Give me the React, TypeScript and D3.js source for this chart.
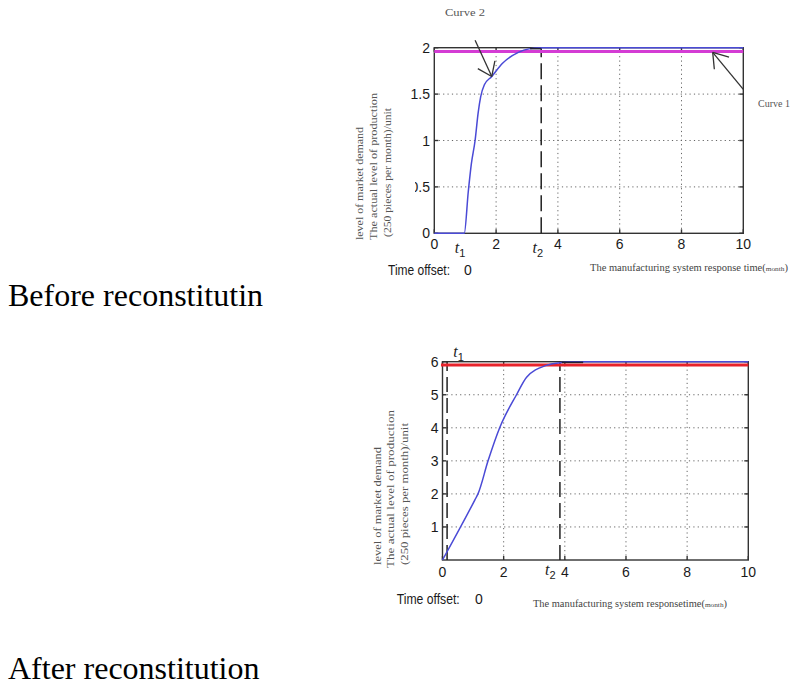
import React from 'react';
import * as d3 from 'd3';

// ---------- data ----------
const xTicks = [0, 2, 4, 6, 8, 10];
const xTickLabels = ['0', '2', '4', '6', '8', '10'];
const gridX = [2, 4, 6, 8];

const beforeYTicks = [0, 0.5, 1, 1.5, 2];
const beforeYTickLabels = ['0', '0.5', '1', '1.5', '2'];
const beforeGridY = [0.5, 1, 1.5];

const afterYTicks = [1, 2, 3, 4, 5, 6];
const afterYTickLabels = ['1', '2', '3', '4', '5', '6'];
const afterGridY = [1, 2, 3, 4, 5];

// Before reconstitution: actual production (curve 2) and market demand (curve 1)
const beforeTime = [0, 0.97, 1.1, 1.2, 1.32, 1.42, 1.5, 1.62, 1.86, 2.2, 2.72, 3.1, 3.4, 10];
const beforeProduction = [0, 0, 0.45, 0.75, 1.0, 1.3, 1.47, 1.6, 1.69, 1.83, 1.95, 1.99, 2, 2];
const beforeDemandTime = [0, 10];
const beforeDemand = [1.96, 1.96];
const beforeT2 = 3.46;

// After reconstitution
const afterTime = [0, 1.06, 1.16, 1.49, 1.87, 2.42, 2.75, 3.4, 3.84, 4.2, 10];
const afterProduction = [0, 1.82, 2.0, 3.0, 4.0, 5.0, 5.53, 5.89, 5.97, 6.0, 6.0];
const afterDemandTime = [-0.05, 10];
const afterDemand = [5.9, 5.9];
const afterT1 = 0.15;
const afterT2 = 3.84;

const SANS = '"Liberation Sans", Arial, sans-serif';
const SERIF = '"Liberation Serif", "Times New Roman", serif';
const FRAME = '#333';

type Scale = d3.ScaleLinear<number, number>;

function Frame({ x, y, gridY }: { x: Scale; y: Scale; gridY: number[] }) {
  const [x0, x1] = x.range();
  const [y0, y1] = y.range();
  return (
    <g>
      {gridX.map((v) => (
        <line key={'gx' + v} x1={x(v)} x2={x(v)} y1={y0} y2={y1} stroke="#666" strokeWidth={1} strokeDasharray="1.2,3.2" />
      ))}
      {gridY.map((v) => (
        <line key={'gy' + v} x1={x0} x2={x1} y1={y(v)} y2={y(v)} stroke="#666" strokeWidth={1} strokeDasharray="1.2,3.2" />
      ))}
      <rect x={x0} y={y1} width={x1 - x0} height={y0 - y1} fill="none" stroke={FRAME} strokeWidth={1.4} />
      {xTicks.map((v) => (
        <g key={'tx' + v}>
          <line x1={x(v)} x2={x(v)} y1={y0} y2={y0 - 4} stroke={FRAME} strokeWidth={1.4} />
          <line x1={x(v)} x2={x(v)} y1={y1} y2={y1 + 4} stroke={FRAME} strokeWidth={1.4} />
        </g>
      ))}
    </g>
  );
}

function YTicks({ x, y, ticks }: { x: Scale; y: Scale; ticks: number[] }) {
  const [x0, x1] = x.range();
  return (
    <g>
      {ticks.map((v) => (
        <g key={'ty' + v}>
          <line x1={x0} x2={x0 + 4} y1={y(v)} y2={y(v)} stroke={FRAME} strokeWidth={1.4} />
          <line x1={x1} x2={x1 - 4} y1={y(v)} y2={y(v)} stroke={FRAME} strokeWidth={1.4} />
        </g>
      ))}
    </g>
  );
}

function Arrow({ x, y, tail, tip, len, ang }: { x: Scale; y: Scale; tail: number[]; tip: number[]; len: number; ang: number }) {
  const tx = x(tip[0]), ty = y(tip[1]);
  const sx = x(tail[0]), sy = y(tail[1]);
  const a = Math.atan2(sy - ty, sx - tx);
  const r = (ang * Math.PI) / 180;
  const b1 = [tx + len * Math.cos(a + r), ty + len * Math.sin(a + r)];
  const b2 = [tx + len * Math.cos(a - r), ty + len * Math.sin(a - r)];
  return (
    <g stroke="#333" strokeWidth={1.3} fill="none">
      <line x1={sx} y1={sy} x2={tx} y2={ty} />
      <line x1={b1[0]} y1={b1[1]} x2={tx} y2={ty} />
      <line x1={b2[0]} y1={b2[1]} x2={tx} y2={ty} />
    </g>
  );
}

function TLabel({ px, py, sub }: { px: number; py: number; sub: string }) {
  return (
    <text x={px} y={py} fontFamily={SERIF} fontStyle="italic" fontSize={16} fill="#222">
      t
      <tspan fontFamily={SANS} fontStyle="normal" fontSize={11} dy={4}>
        {sub}
      </tspan>
    </text>
  );
}

export default function App() {
  // ---- before chart ----
  const bx = d3.scaleLinear().domain([0, 10]).range([434.3, 743.3]);
  const by = d3.scaleLinear().domain([0, 2]).range([233.3, 47.7]);
  const line = (xs: Scale, ys: Scale) =>
    d3
      .line<[number, number]>()
      .x((d) => xs(d[0]))
      .y((d) => ys(d[1]))
      .curve(d3.curveMonotoneX);
  const bProd = line(bx, by)(beforeTime.map((t, i) => [t, beforeProduction[i]] as [number, number])) || '';
  const bDem = line(bx, by)(beforeDemandTime.map((t, i) => [t, beforeDemand[i]] as [number, number])) || '';

  // ---- after chart ----
  const ax = d3.scaleLinear().domain([0, 10]).range([442.5, 748.3]);
  const ay = d3.scaleLinear().domain([0, 6]).range([560, 361.7]);
  const aProd = line(ax, ay)(afterTime.map((t, i) => [t, afterProduction[i]] as [number, number])) || '';
  const aDem = line(ax, ay)(afterDemandTime.map((t, i) => [t, afterDemand[i]] as [number, number])) || '';

  const TICK_FS = 14;

  return (
    <svg
      width={796}
      height={685}
      viewBox="0 0 796 685"
      style={{ position: 'absolute', left: 0, top: 0, background: '#fff', display: 'block' }}
    >
      <defs>
        <clipPath id="clipHalf">
          <rect x={415} y={0} width={400} height={685} />
        </clipPath>
      </defs>
      <rect x={0} y={0} width={796} height={685} fill="#fff" />

      {/* ================= BEFORE ================= */}
      <Frame x={bx} y={by} gridY={beforeGridY} />
      <YTicks x={bx} y={by} ticks={beforeYTicks} />
      <line x1={bx(beforeT2)} x2={bx(beforeT2)} y1={by(0)} y2={by(2)} stroke="#222" strokeWidth={1.5} strokeDasharray="16,6" />
      <path d={bDem} fill="none" stroke="#d43cd4" strokeWidth={3} />
      <path d={bProd} fill="none" stroke="#4a4ad6" strokeWidth={1.5} />
      <line x1={bx(3.1)} x2={bx(3.45)} y1={by(1.99)} y2={by(1.99)} stroke="#223" strokeWidth={1.6} />
      <Arrow x={bx} y={by} tail={[1.32, 2.08]} tip={[1.86, 1.69]} len={16} ang={36} />
      <Arrow x={bx} y={by} tail={[10, 1.55]} tip={[9.01, 1.95]} len={17} ang={34} />

      {beforeYTicks.map((v, i) => (
        <text
          key={'bl' + v}
          x={430}
          y={by(v)}
          dy="0.36em"
          textAnchor="end"
          fontFamily={SANS}
          fontSize={TICK_FS}
          fill="#1a1a1a"
          clipPath={beforeYTickLabels[i] === '0.5' ? 'url(#clipHalf)' : undefined}
        >
          {beforeYTickLabels[i]}
        </text>
      ))}
      {xTicks.map((v, i) => (
        <text key={'bxl' + v} x={bx(v)} y={244} dy="0.36em" textAnchor="middle" fontFamily={SANS} fontSize={TICK_FS} fill="#1a1a1a">
          {xTickLabels[i]}
        </text>
      ))}
      <TLabel px={bx(0.66)} py={253} sub="1" />
      <TLabel px={bx(3.18)} py={253} sub="2" />

      <text x={445} y={16} fontFamily={SERIF} fontSize={10} fill="#555" textLength={40} lengthAdjust="spacingAndGlyphs">
        Curve 2
      </text>
      <text x={758} y={107} fontFamily={SERIF} fontSize={10} fill="#555">
        Curve 1
      </text>

      <g fontFamily={SERIF} fontSize={11} fill="#555">
        <text transform="translate(363,240) rotate(-90)" textLength={113} lengthAdjust="spacingAndGlyphs">
          level of market demand
        </text>
        <text transform="translate(376.5,240) rotate(-90)" textLength={147} lengthAdjust="spacingAndGlyphs">
          The actual level of production
        </text>
        <text transform="translate(390.5,237) rotate(-90)" textLength={129} lengthAdjust="spacingAndGlyphs">
          (250 pieces per month)/unit
        </text>
      </g>

      <text x={388} y={270} dy="0.36em" fontFamily={SANS} fontSize={14} fill="#1a1a1a" textLength={62} lengthAdjust="spacingAndGlyphs">
        Time offset:
      </text>
      <text x={464} y={270} dy="0.36em" fontFamily={SANS} fontSize={14} fill="#1a1a1a">
        0
      </text>
      <text x={590} y={271} fontFamily={SERIF} fontSize={10} fill="#444" textLength={198} lengthAdjust="spacingAndGlyphs">
        The manufacturing system response time(<tspan fontSize={7}>month</tspan>)
      </text>

      <text x={8} y={306} fontFamily={SERIF} fontSize={32} fill="#000">
        Before reconstitutin
      </text>

      {/* ================= AFTER ================= */}
      <Frame x={ax} y={ay} gridY={afterGridY} />
      <YTicks x={ax} y={ay} ticks={afterYTicks} />
      <line x1={ax(afterT1)} x2={ax(afterT1)} y1={ay(0)} y2={ay(6)} stroke="#222" strokeWidth={1.5} strokeDasharray="15,6" />
      <line x1={ax(afterT2)} x2={ax(afterT2)} y1={ay(0)} y2={ay(6)} stroke="#222" strokeWidth={1.5} strokeDasharray="15,6" />
      <path d={aDem} fill="none" stroke="#e8232b" strokeWidth={3} />
      <path d={aProd} fill="none" stroke="#4a4ad6" strokeWidth={1.5} />
      <line x1={ax(3.9)} x2={ax(4.6)} y1={ay(5.98)} y2={ay(5.98)} stroke="#223" strokeWidth={1.6} />

      {afterYTicks.map((v, i) => (
        <text key={'al' + v} x={438.5} y={ay(v)} dy="0.36em" textAnchor="end" fontFamily={SANS} fontSize={TICK_FS} fill="#1a1a1a">
          {afterYTickLabels[i]}
        </text>
      ))}
      {xTicks.map((v, i) => (
        <text key={'axl' + v} x={ax(v)} y={571.7} dy="0.36em" textAnchor="middle" fontFamily={SANS} fontSize={TICK_FS} fill="#1a1a1a">
          {xTickLabels[i]}
        </text>
      ))}
      <TLabel px={ax(0.35)} py={357} sub="1" />
      <TLabel px={ax(3.35)} py={575} sub="2" />

      <g fontFamily={SERIF} fontSize={11} fill="#555">
        <text transform="translate(380.5,565) rotate(-90)" textLength={118} lengthAdjust="spacingAndGlyphs">
          level of market demand
        </text>
        <text transform="translate(393.5,568) rotate(-90)" textLength={158} lengthAdjust="spacingAndGlyphs">
          The actual level  of production
        </text>
        <text transform="translate(407.5,565) rotate(-90)" textLength={142} lengthAdjust="spacingAndGlyphs">
          (250 pieces per month)/unit
        </text>
      </g>

      <text x={396.7} y={599} dy="0.36em" fontFamily={SANS} fontSize={14} fill="#1a1a1a" textLength={63} lengthAdjust="spacingAndGlyphs">
        Time offset:
      </text>
      <text x={475} y={599} dy="0.36em" fontFamily={SANS} fontSize={14} fill="#1a1a1a">
        0
      </text>
      <text x={533} y={607} fontFamily={SERIF} fontSize={10} fill="#444" textLength={194} lengthAdjust="spacingAndGlyphs">
        The manufacturing system responsetime(<tspan fontSize={7}>month</tspan>)
      </text>

      <text x={8} y={679} fontFamily={SERIF} fontSize={32} fill="#000">
        After reconstitution
      </text>
    </svg>
  );
}
